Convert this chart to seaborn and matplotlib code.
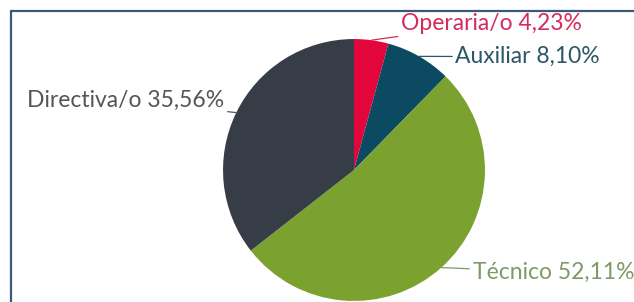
import seaborn as sns
import matplotlib.pyplot as plt
from matplotlib.lines import Line2D
import numpy as np

# data
categories = ['Operaria/o', 'Auxiliar', 'Técnico', 'Directiva/o']
shares = [4.23, 8.10, 52.11, 35.56]
labels = ['Operaria/o 4,23%', 'Auxiliar 8,10%', 'Técnico 52,11%', 'Directiva/o 35,56%']

wedge_colors = ['#e3063d', '#0c4a62', '#7ba22f', '#363d47']
text_colors = ['#d42a5e', '#2d5667', '#7f9a66', '#555555']

sns.set_theme(style='white')
plt.rcParams['font.family'] = ['Lato', 'DejaVu Sans']

fig = plt.figure(figsize=(6.34, 3.02), dpi=100)
ax = fig.add_axes([0, 0, 1, 1])

wedges, _ = ax.pie(shares, colors=wedge_colors, startangle=90, counterclock=False,
                   radius=1.0, wedgeprops=dict(linewidth=0))
ax.set_xlim(-2.702, 2.137)
ax.set_ylim(-1.008, 1.298)
ax.set_aspect('equal')
ax.axis('off')

# label placement (text anchor, alignment)
text_pos = [(0.36, 1.12, 'left'), (0.775, 0.865, 'left'),
            (0.905, -0.78, 'left'), (-0.99, 0.53, 'right')]

for w, lab, tc, (tx, ty, ha) in zip(wedges, labels, text_colors, text_pos):
    ang = np.deg2rad((w.theta1 + w.theta2) / 2)
    px, py = np.cos(ang), np.sin(ang)
    ax.annotate(lab, xy=(px, py), xytext=(tx, ty), ha=ha, va='center',
                fontsize=16.5, color=tc,
                arrowprops=dict(arrowstyle='-', color=tc, lw=0.9,
                                shrinkA=0, shrinkB=0))

# frame lines (top and left)
fig.add_artist(Line2D([11/634, 1], [1 - 11/302, 1 - 11/302], color='#3c5a78', lw=1.6))
fig.add_artist(Line2D([11/634, 11/634], [0, 1 - 11/302], color='#3c5a78', lw=1.6))

fig.savefig('out.png', dpi=100)
